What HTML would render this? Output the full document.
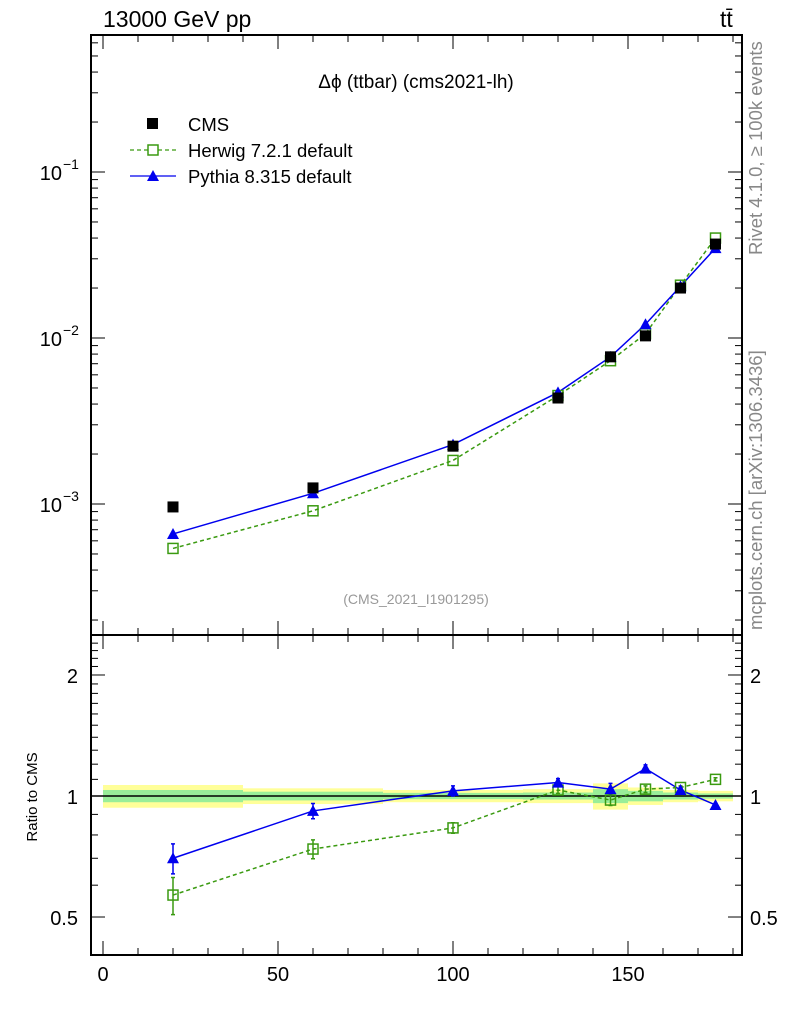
<!DOCTYPE html>
<html><head><meta charset="utf-8"><style>
body{margin:0;background:#fff;}
svg text{font-family:"Liberation Sans",sans-serif;}
</style></head><body>
<svg id="c" width="786" height="1024" xmlns="http://www.w3.org/2000/svg">
<rect width="786" height="1024" fill="#fff"/>
<g id="bands"></g><g id="grid"></g><g id="series"></g><g id="axes"></g>
<text x="103" y="27" font-size="23">13000 GeV pp</text>
<text x="720" y="27" font-size="23">tt̄</text>
<text x="416" y="88" font-size="19" text-anchor="middle">Δϕ (ttbar) (cms2021-lh)</text>
<text x="416" y="604" font-size="14" fill="#999" text-anchor="middle">(CMS_2021_I1901295)</text>
<text transform="translate(762,255) rotate(-90)" font-size="18.5" fill="#888">Rivet 4.1.0, ≥ 100k events</text>
<text transform="translate(762,630) rotate(-90)" font-size="18.5" fill="#888">mcplots.cern.ch [arXiv:1306.3436]</text>
<text transform="translate(37,797) rotate(-90)" font-size="15" text-anchor="middle">Ratio to CMS</text>
<g>
<rect x="147" y="118" width="11" height="11" fill="#000"/>
<text x="188" y="131" font-size="18.5">CMS</text>
<line x1="130" y1="150" x2="176" y2="150" stroke="#3a9a10" stroke-width="1.3" stroke-dasharray="4,3"/>
<rect x="148" y="145" width="10" height="10" fill="#fff" stroke="#3a9a10" stroke-width="1.5"/>
<text x="188" y="157" font-size="18.5">Herwig 7.2.1 default</text>
<line x1="130" y1="176" x2="176" y2="176" stroke="#0000ee" stroke-width="1.3"/>
<polygon points="153,170 159,181 147,181" fill="#0000ee"/>
<text x="188" y="183" font-size="18.5">Pythia 8.315 default</text>
</g>
</svg>
<script>
const xs=[20,60,100,130,145,155,165,175];
const cms=[0.00096,0.00125,0.00223,0.00435,0.0077,0.0103,0.020,0.0368];
const herwig=[0.00054,0.00091,0.00183,0.0045,0.0073,0.0106,0.0208,0.040];
const pythia=[0.00066,0.00116,0.00228,0.0047,0.0077,0.0121,0.0205,0.0348];
const herwigRatio=[0.567,0.738,0.833,1.035,0.977,1.04,1.05,1.10];
const pythiaRatio=[0.70,0.918,1.03,1.08,1.04,1.17,1.035,0.95];
const herwigRatioErr=[0.06,0.04,0.025,0.02,0.03,0.02,0.01,0.01];
const pythiaRatioErr=[0.06,0.04,0.03,0.025,0.035,0.025,0.015,0.01];
const binEdges=[0,40,80,120,140,150,160,170,180];
const bandYellow=[0.065,0.045,0.035,0.04,0.075,0.05,0.035,0.03];
const bandGreen=[0.035,0.025,0.018,0.02,0.04,0.03,0.02,0.015];
const xTicks=[0,50,100,150];
const yTicks=[0.001,0.01,0.1];
const yTickLabels=["10","10","10"];
const yTickExp=["−3","−2","−1"];
const rTicks=[0.5,1,2];
const NS='http://www.w3.org/2000/svg';
const X=v=>103+v*3.5;
const Y=v=>172-(Math.log10(v)+1)*166;
const R=v=>796-Math.log10(v)*402;
const L=91,Rt=742,T=35,M=635,B=955;
function el(t,a,p){const e=document.createElementNS(NS,t);for(const k in a)e.setAttribute(k,a[k]);document.getElementById(p).appendChild(e);return e;}
for(let i=0;i<xs.length;i++){
 let e=el('rect',{x:X(binEdges[i]),y:R(1+bandYellow[i]),width:X(binEdges[i+1])-X(binEdges[i]),height:R(1-bandYellow[i])-R(1+bandYellow[i]),fill:'#ffff99'},'bands');
 
 
 let g=el('rect',{x:X(binEdges[i]),y:R(1+bandGreen[i]),width:X(binEdges[i+1])-X(binEdges[i]),height:R(1-bandGreen[i])-R(1+bandGreen[i]),fill:'#99ee99'},'bands');
 
 
}
let one=el('line',{x1:L,x2:Rt,y1:R(1),y2:R(1),stroke:'#000','stroke-width':1.5},'bands');


for(const [y1,y2] of [[T,M],[M,B]]){
 let f=el('rect',{x:L,y:y1,width:Rt-L,height:y2-y1,fill:'none',stroke:'#000','stroke-width':2},'axes');
 
 
}
for(let v=0;v<=180;v+=10){
 const big=v%50===0;const len=big?14:7;
 for(const [a,b] of [[T,1],[M,-1],[M,1],[B,-1]]) el('line',{x1:X(v),x2:X(v),y1:a,y2:a+b*len,stroke:'#000','stroke-width':1},'axes');
}
xTicks.forEach(v=>{let t=el('text',{x:X(v),y:981,'font-size':20,'text-anchor':'middle'},'axes');t.textContent=v;
 
 });
for(let d=-4;d<=0;d++)for(let m=1;m<10;m++){const v=m*Math.pow(10,d);const y=Y(v);if(y<T||y>M)continue;const len=m===1?14:7;
 el('line',{x1:L,x2:L+len,y1:y,y2:y,stroke:'#000'},'axes');el('line',{x1:Rt,x2:Rt-len,y1:y,y2:y,stroke:'#000'},'axes');}
yTicks.forEach((v,i)=>{let t=el('text',{x:62,y:Y(v)+8,'font-size':20,'text-anchor':'end'},'axes');t.textContent=yTickLabels[i];
 
 
 let s=el('text',{x:63,y:Y(v)-3,'font-size':14},'axes');s.textContent=yTickExp[i];});
for(let v=0.4;v<=2.5;v+=0.1){const y=R(v);if(y<M||y>B)continue;const maj=[0.5,1,2].some(q=>Math.abs(q-v)<1e-6);const len=maj?14:7;
 el('line',{x1:L,x2:L+len,y1:y,y2:y,stroke:'#000'},'axes');el('line',{x1:Rt,x2:Rt-len,y1:y,y2:y,stroke:'#000'},'axes');}
rTicks.forEach(v=>{for(const [x,a] of [[78,'end'],[750,'start']]){let t=el('text',{x:x,y:R(v)+8,'font-size':20,'text-anchor':a},'axes');t.textContent=v;
 
 }});
function line(vals,f,col,dash,name){let p=el('polyline',{points:xs.map((x,i)=>X(x)+','+f(vals[i])).join(' '),fill:'none',stroke:col,'stroke-width':1.5,'stroke-dasharray':dash},'series');
 
 }
function err(x,v,e,col,name){const y1=R(v+e),y2=R(v-e);
 let p=el('path',{d:`M${x},${y1}V${y2}M${x-2},${y1}H${x+2}M${x-2},${y2}H${x+2}`,stroke:col,'stroke-width':1.5,fill:'none'},'series');
 
 }
function tri(x,y,name){let p=el('polygon',{points:`${x},${y-6} ${x+6},${y+5} ${x-6},${y+5}`,fill:'#0000ee'},'series');
 
 }
function sq(x,y,name){let p=el('rect',{x:x-5,y:y-5,width:10,height:10,fill:'none',stroke:'#3a9a10','stroke-width':1.5},'series');
 
 }
line(herwig,Y,'#3a9a10','4,3','herwig-line');
line(pythia,Y,'#0000ee','none','pythia-line');
line(herwigRatio,R,'#3a9a10','4,3','herwig-ratio-line');
line(pythiaRatio,R,'#0000ee','none','pythia-ratio-line');
xs.forEach((x,i)=>{
 sq(X(x),Y(herwig[i]),'herwig-point');
 tri(X(x),Y(pythia[i]),'pythia-point');
 let c=el('rect',{x:X(x)-5.5,y:Y(cms[i])-5.5,width:11,height:11,fill:'#000'},'series');
 
 
 err(X(x),herwigRatio[i],herwigRatioErr[i],'#3a9a10','herwig-ratio-error');
 err(X(x),pythiaRatio[i],pythiaRatioErr[i],'#0000ee','pythia-ratio-error');
 sq(X(x),R(herwigRatio[i]),'herwig-ratio-point');
 tri(X(x),R(pythiaRatio[i]),'pythia-ratio-point');
});
</script>
</body></html>
